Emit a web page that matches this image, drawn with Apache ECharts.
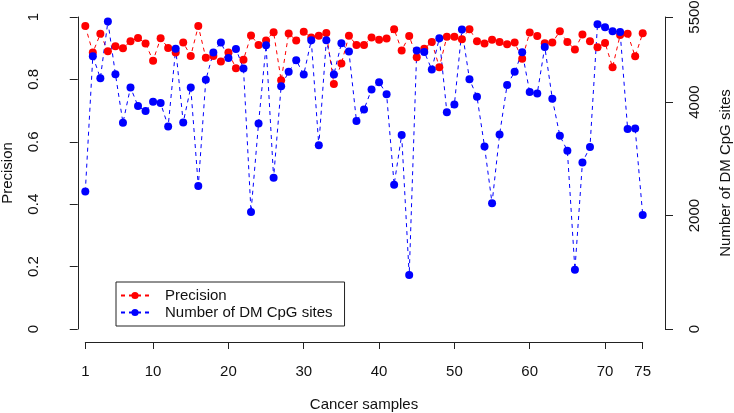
<!DOCTYPE html>
<html>
<head>
<meta charset="utf-8">
<script src="https://cdn.jsdelivr.net/npm/echarts@6/dist/echarts.min.js"></script>
<style>html,body{margin:0;padding:0;background:#fff;}#c{width:734px;height:413px;}</style>
</head>
<body>
<div id="c"></div>
<script>
// Precision per cancer sample (samples 1..75)
const precision = [
  0.971, 0.886, 0.946, 0.890, 0.906, 0.900, 0.922, 0.933, 0.915, 0.860,
  0.932, 0.901, 0.886, 0.918, 0.875, 0.971, 0.869, 0.875, 0.857, 0.886,
  0.836, 0.863, 0.941, 0.910, 0.925, 0.951, 0.797, 0.947, 0.925, 0.953,
  0.934, 0.940, 0.949, 0.785, 0.851, 0.940, 0.910, 0.910, 0.934, 0.927,
  0.931, 0.961, 0.893, 0.939, 0.871, 0.898, 0.920, 0.839, 0.937, 0.937,
  0.929, 0.961, 0.922, 0.915, 0.927, 0.920, 0.913, 0.918, 0.866, 0.950,
  0.939, 0.916, 0.918, 0.954, 0.920, 0.896, 0.944, 0.922, 0.903, 0.917,
  0.839, 0.942, 0.946, 0.874, 0.948
];
// Number of DM CpG sites per cancer sample
const dmSites = [
  2422, 4809, 4422, 5419, 4492, 3636, 4258, 3930, 3842, 4006,
  3982, 3571, 4940, 3642, 4258, 2521, 4393, 4873, 5049, 4779,
  4938, 4592, 2064, 3624, 5002, 2667, 4281, 4533, 4738, 4486,
  5090, 3237, 5090, 4486, 5037, 4890, 3665, 3870, 4222, 4351,
  4140, 2545, 3419, 950, 4909, 4885, 4574, 5125, 3823, 3958,
  5278, 4404, 4093, 3219, 2216, 3430, 4302, 4533, 4879, 4176,
  4152, 4973, 4058, 3407, 3143, 1043, 2937, 3207, 5372, 5319,
  5249, 5237, 3524, 3536, 2011
];
const xTicks = [1, 10, 20, 30, 40, 50, 60, 70, 75];
const leftTicks = [0, 0.2, 0.4, 0.6, 0.8, 1];
const rightTicks = [0, 2000, 4000, 5500];

const pairs = arr => arr.map((v, i) => [i + 1, v]);
const FONT = 'Liberation Sans';
const AX = '#222';
const TXT = '#111';

const chart = echarts.init(document.getElementById('c'), null, {renderer: 'canvas'});
chart.setOption({
  animation: false,
  backgroundColor: '#fff',
  textStyle: {fontFamily: FONT},
  grid: [
    {left: 63, width: 602, top: 17, height: 312, outerBoundsMode: 'none', containLabel: false},
    {left: 85.3, width: 557.4, top: 340, height: 2, outerBoundsMode: 'none', containLabel: false}
  ],
  legend: {
    left: 116, top: 282,
    orient: 'vertical',
    borderColor: '#222', borderWidth: 1, borderRadius: 0,
    padding: [5, 12, 5, 4],
    itemGap: 0,
    itemWidth: 28, itemHeight: 9,
    textStyle: {fontFamily: FONT, fontSize: 15, color: TXT, lineHeight: 17, padding: [0, 0, 0, 11]},
    data: ['Precision', 'Number of DM CpG sites']
  },
  xAxis: [
    {type: 'value', gridIndex: 0, min: -1.96, max: 77.96, show: false},
    {type: 'value', gridIndex: 1, min: 1, max: 75, position: 'bottom',
     axisLine: {show: true, lineStyle: {color: AX, width: 1}},
     axisTick: {show: true, length: 7, lineStyle: {color: AX}, customValues: xTicks},
     axisLabel: {color: TXT, fontSize: 15, fontFamily: FONT, margin: 22, customValues: xTicks},
     splitLine: {show: false},
     name: 'Cancer samples', nameLocation: 'middle', nameGap: 55,
     nameTextStyle: {color: TXT, fontSize: 15, fontFamily: FONT}}
  ],
  yAxis: [
    {type: 'value', gridIndex: 0, min: 0, max: 1, position: 'left',
     axisLine: {show: true, lineStyle: {color: AX, width: 1}},
     axisTick: {show: true, length: 8, lineStyle: {color: AX}, customValues: leftTicks},
     axisLabel: {color: TXT, fontSize: 15, fontFamily: FONT, rotate: 90, margin: 22, customValues: leftTicks,
                 formatter: v => String(v)},
     splitLine: {show: false},
     name: 'Precision', nameLocation: 'middle', nameGap: 48, nameRotate: 90,
     nameTextStyle: {color: TXT, fontSize: 15, fontFamily: FONT}},
    {type: 'value', gridIndex: 0, min: 0, max: 5500, position: 'right',
     axisLine: {show: true, lineStyle: {color: AX, width: 1}},
     axisTick: {show: true, length: 8, lineStyle: {color: AX}, customValues: rightTicks},
     axisLabel: {color: TXT, fontSize: 15, fontFamily: FONT, rotate: 90, margin: 22, customValues: rightTicks,
                 formatter: v => String(v)},
     splitLine: {show: false},
     name: 'Number of DM CpG sites', nameLocation: 'middle', nameGap: 53, nameRotate: 90,
     nameTextStyle: {color: TXT, fontSize: 15, fontFamily: FONT}},
    {type: 'value', gridIndex: 1, show: false}
  ],
  series: [
    {name: 'Precision', type: 'line', xAxisIndex: 0, yAxisIndex: 0,
     data: pairs(precision),
     symbol: 'circle', symbolSize: 8,
     itemStyle: {color: '#ff0000'},
     lineStyle: {color: '#ff0000', width: 1, type: [4, 4]}},
    {name: 'Number of DM CpG sites', type: 'line', xAxisIndex: 0, yAxisIndex: 1,
     data: pairs(dmSites),
     symbol: 'circle', symbolSize: 8,
     itemStyle: {color: '#0000ff'},
     lineStyle: {color: '#0000ff', width: 1, type: [4, 4]}}
  ]
});
</script>
</body>
</html>
